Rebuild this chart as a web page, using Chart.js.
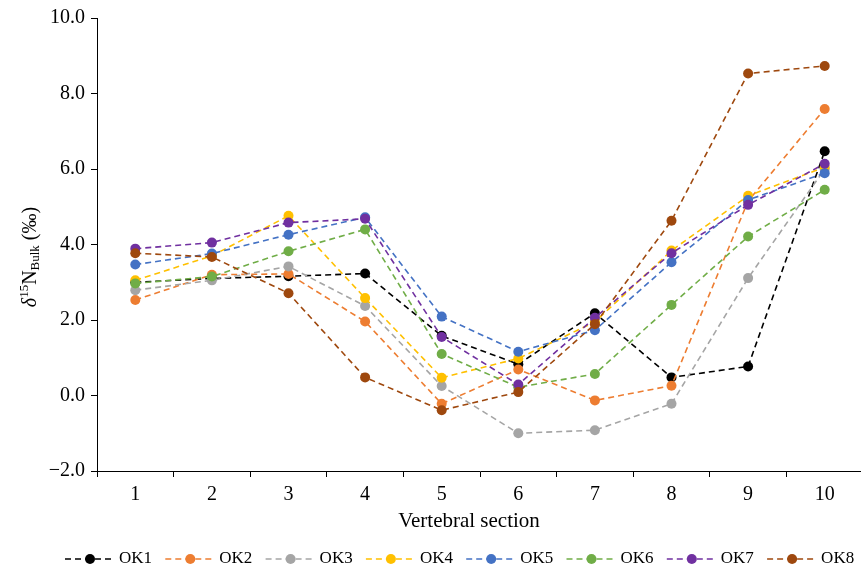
<!DOCTYPE html>
<html>
<head>
<meta charset="utf-8">
<script src="https://cdn.jsdelivr.net/npm/chart.js@4.4.1/dist/chart.umd.min.js"></script>
<style>
  html, body { margin: 0; padding: 0; background: #fff; overflow: hidden; }
  #wrap { width: 868px; height: 572px; }
</style>
</head>
<body>
<div id="wrap"><canvas id="chart" width="868" height="572"></canvas></div>
<script>
/* delta 15N bulk by vertebral section, 8 specimens */
const sections = ['1','2','3','4','5','6','7','8','9','10'];
const yTicks = [-2, 0, 2, 4, 6, 8, 10];
const seriesNames = ['OK1','OK2','OK3','OK4','OK5','OK6','OK7','OK8'];
const seriesColors = ['#000000','#ED7D31','#A5A5A5','#FFC000','#4472C4','#70AD47','#7030A0','#9E480E'];

const ok1 = [3.00, 3.10, 3.16, 3.23, 1.58, 0.83, 2.18, 0.48, 0.77, 6.47];
const ok2 = [2.53, 3.20, 3.22, 1.96, -0.22, 0.69, -0.13, 0.26, 5.15, 7.59];
const ok3 = [2.79, 3.05, 3.42, 2.37, 0.25, -1.00, -0.92, -0.22, 3.11, 6.00];
const ok4 = [3.05, 3.70, 4.76, 2.58, 0.47, 0.98, 1.95, 3.84, 5.29, 6.05];
const ok5 = [3.47, 3.76, 4.26, 4.72, 2.09, 1.16, 1.73, 3.53, 5.18, 5.89];
const ok6 = [2.97, 3.15, 3.82, 4.40, 1.10, 0.22, 0.57, 2.40, 4.21, 5.45];
const ok7 = [3.89, 4.05, 4.58, 4.68, 1.55, 0.29, 2.06, 3.77, 5.05, 6.14];
const ok8 = [3.77, 3.67, 2.71, 0.48, -0.39, 0.09, 1.89, 4.63, 8.53, 8.73];
const seriesData = [ok1, ok2, ok3, ok4, ok5, ok6, ok7, ok8];

const SERIF = "'Liberation Serif', 'DejaVu Serif', serif";

const datasets = seriesNames.map((name, i) => ({
  label: name,
  data: seriesData[i],
  borderColor: seriesColors[i],
  backgroundColor: seriesColors[i],
  borderWidth: 1.6,
  borderDash: [6, 4],
  pointRadius: 5,
  pointHoverRadius: 5,
  pointBorderWidth: 0,
  tension: 0,
  fill: false,
  order: seriesNames.length - 1 - i   // later series on top
}));

// titles and legend drawn by hand (super/subscripts, dashed legend keys)
const extras = {
  id: 'extras',
  afterDraw(chart){
    const ctx = chart.ctx;
    const area = chart.chartArea;
    ctx.save();
    ctx.fillStyle = '#000';
    ctx.textBaseline = 'middle';

    // x title
    ctx.font = '21px ' + SERIF;
    ctx.textAlign = 'center';
    ctx.fillText('Vertebral section', 469, 521);

    // y title: δ15N_Bulk (‰)
    const parts = [
      {t: 'δ', f: 'italic 20px ' + SERIF, dy: 0},
      {t: '15', f: '13px ' + SERIF, dy: -6},
      {t: 'N', f: '20px ' + SERIF, dy: 0},
      {t: 'Bulk', f: '13px ' + SERIF, dy: 5},
      {t: ' (‰)', f: '20px ' + SERIF, dy: 0}
    ];
    let total = 0;
    parts.forEach(p => { ctx.font = p.f; p.w = ctx.measureText(p.t).width; total += p.w; });
    ctx.translate(31, 257);
    ctx.rotate(-Math.PI / 2);
    ctx.textAlign = 'left';
    let x = -total / 2;
    parts.forEach(p => { ctx.font = p.f; ctx.fillText(p.t, x, p.dy); x += p.w; });
    ctx.setTransform(1, 0, 0, 1, 0, 0);

    // legend
    const ly = 559;
    ctx.font = '17px ' + SERIF;
    ctx.textAlign = 'left';
    seriesNames.forEach((name, i) => {
      const x0 = 65 + i * 100.3;
      ctx.strokeStyle = seriesColors[i];
      ctx.fillStyle = seriesColors[i];
      ctx.lineWidth = 1.6;
      ctx.setLineDash([6, 4]);
      ctx.beginPath(); ctx.moveTo(x0, ly); ctx.lineTo(x0 + 50, ly); ctx.stroke();
      ctx.setLineDash([]);
      ctx.beginPath(); ctx.arc(x0 + 25, ly, 5, 0, Math.PI * 2); ctx.fill();
      ctx.fillStyle = '#000';
      ctx.fillText(name, x0 + 54, ly);
    });
    ctx.restore();
  }
};

new Chart(document.getElementById('chart'), {
  type: 'line',
  data: { labels: sections, datasets },
  options: {
    responsive: false,
    animation: false,
    layout: { padding: { top: 15, right: 2, bottom: 0, left: 0 } },
    plugins: { legend: { display: false }, tooltip: { enabled: false } },
    scales: {
      x: {
        offset: true,
        grid: { offset: true, drawOnChartArea: false, drawTicks: true, tickLength: 6, color: '#000' },
        border: { color: '#000', width: 1 },
        ticks: { color: '#000', font: { family: SERIF, size: 20 }, padding: 6, maxRotation: 0 },
        afterFit(s){ s.height = 101; }
      },
      y: {
        min: -2, max: 10,
        afterBuildTicks(s){ s.ticks = yTicks.map(v => ({ value: v })); },
        grid: { drawOnChartArea: false, drawTicks: true, tickLength: 6, color: '#000' },
        border: { color: '#000', width: 1 },
        ticks: {
          color: '#000', font: { family: SERIF, size: 20 }, padding: 6,
          callback: v => (v < 0 ? '\u2212' : '') + Math.abs(v).toFixed(1)
        },
        afterFit(s){ s.width = 97; }
      }
    }
  },
  plugins: [extras]
});
</script>
</body>
</html>
